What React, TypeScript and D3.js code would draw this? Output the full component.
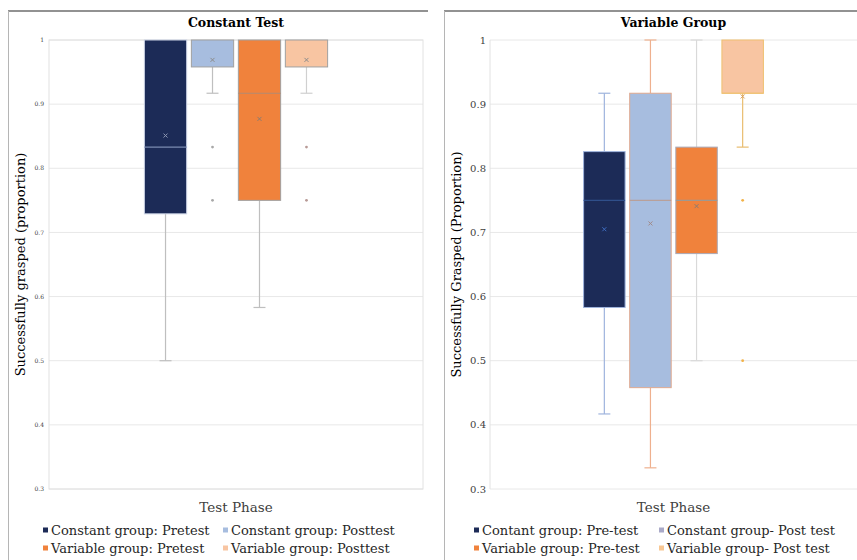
import React from "react";
import * as d3 from "d3";

const categories = ["Test Phase"];
const yTicks = [0.3, 0.4, 0.5, 0.6, 0.7, 0.8, 0.9, 1];

// Left panel: Constant Test
const constSeries = ["Constant group: Pretest", "Constant group: Posttest", "Variable group: Pretest", "Variable group: Posttest"];
const constQ1 = [0.729, 0.958, 0.75, 0.958];
const constMedian = [0.833, 1, 0.917, 1];
const constQ3 = [1, 1, 1, 1];
const constMean = [0.851, 0.969, 0.877, 0.969];
const constMin = [0.5, 0.917, 0.583, 0.917];
const constMax = [1, 1, 1, 1];
const constOutliers = [[], [0.833, 0.75], [], [0.833, 0.75]];

// Right panel: Variable Group
const varSeries = ["Contant group: Pre-test", "Constant group- Post test", "Variable group: Pre-test", "Variable group- Post test"];
const varQ1 = [0.583, 0.458, 0.667, 0.917];
const varMedian = [0.75, 0.75, 0.75, 0.917];
const varQ3 = [0.826, 0.917, 0.833, 1];
const varMean = [0.705, 0.714, 0.741, 0.912];
const varMin = [0.417, 0.333, 0.5, 0.833];
const varMax = [0.917, 1, 1, 1];
const varOutliers = [[], [], [], [0.75, 0.5]];

const FONT = "'DejaVu Serif', serif";

type Style = {
  fill: string; stroke: string; whisker: string; median: string; mean: string; outlier: string; legend: string;
};

const leftStyles: Style[] = [
  { fill: "#1c2b57", stroke: "#c9d1e3", whisker: "#bfbfbf", median: "#7a8bb0", mean: "#8d97b3", outlier: "#a0a0a0", legend: "#1c2b57" },
  { fill: "#a7bddf", stroke: "#a0a0a0", whisker: "#bfbfbf", median: "#a0a0a0", mean: "#8c8c8c", outlier: "#a8a8a8", legend: "#a7bddf" },
  { fill: "#f0823c", stroke: "#a0a0a0", whisker: "#bfbfbf", median: "#b28a72", mean: "#8c7c70", outlier: "#a0a0a0", legend: "#f0823c" },
  { fill: "#f8c5a2", stroke: "#a0a0a0", whisker: "#d0d0d0", median: "#a0a0a0", mean: "#8c8c8c", outlier: "#b89a96", legend: "#f8c5a2" },
];

const rightStyles: Style[] = [
  { fill: "#1c2b57", stroke: "#9fb4dd", whisker: "#9fb4dd", median: "#2f4f8a", mean: "#3e6bbf", outlier: "#9fb4dd", legend: "#1c2b57" },
  { fill: "#a7bddf", stroke: "#e0a98e", whisker: "#eeb08e", median: "#b8a09a", mean: "#a08a88", outlier: "#eeb08e", legend: "#a9a9c8" },
  { fill: "#f0823c", stroke: "#a9a9b8", whisker: "#d9d9d9", median: "#a09890", mean: "#8c7c72", outlier: "#d9d9d9", legend: "#f0823c" },
  { fill: "#f8c5a2", stroke: "#efc070", whisker: "#e9bd70", median: "#efc070", mean: "#d9a060", outlier: "#f2b248", legend: "#f8c793" },
];

type PanelProps = {
  title: string; yLabel: string; series: string[];
  q1: number[]; median: number[]; q3: number[]; mean: number[]; min: number[]; max: number[]; outliers: number[][];
  styles: Style[];
  frameX: number; frameRight: number; plotLeft: number; plotRight: number;
  tickSize: number; tickX: number; plotBorder: boolean;
  legendCols: number[]; yLabelX: number;
};

function Panel(p: PanelProps) {
  const top = 40, bottom = 489;
  const y = d3.scaleLinear().domain([0.3, 1]).range([bottom, top]);
  const outer = d3.scaleBand().domain(categories).range([p.plotLeft, p.plotRight]).paddingInner(0).paddingOuter(0.495);
  const inner = d3.scaleBand().domain(p.series).range([0, outer.bandwidth()]).paddingInner(0.1).paddingOuter(0.05);
  const cx0 = outer(categories[0])!;
  const bw = inner.bandwidth();
  const cap = 12;
  const plotMid = (p.plotLeft + p.plotRight) / 2;
  return (
    <g>
      <line x1={p.frameX} x2={p.frameRight} y1={11} y2={11} stroke="#6e6e6e" strokeWidth={1.3} />
      <line x1={p.frameX + 0.5} x2={p.frameX + 0.5} y1={11} y2={560} stroke="#b5b5b5" strokeWidth={1} />
      {yTicks.map((t) => (
        <line key={t} x1={p.plotLeft} x2={p.plotRight} y1={y(t)} y2={y(t)} stroke="#e8e8e8" strokeWidth={1} />
      ))}
      {p.plotBorder ? (
        <rect x={p.plotLeft} y={top} width={p.plotRight - p.plotLeft} height={bottom - top} fill="none" stroke="#e2e2e2" />
      ) : (
        <line x1={p.plotLeft} x2={p.plotLeft} y1={top} y2={bottom} stroke="#e2e2e2" />
      )}
      {yTicks.map((t) => (
        <text key={t} x={p.tickX} y={y(t)} dy="0.35em" textAnchor="end" fontFamily={FONT} fontSize={p.tickSize} fill="#404040">
          {d3.format("")(t)}
        </text>
      ))}
      <text x={plotMid} y={27} textAnchor="middle" fontFamily={FONT} fontWeight="bold" fontSize={12.5} fill="#000">{p.title}</text>
      <text transform={`translate(${p.yLabelX},${(top + bottom) / 2 + 0}) rotate(-90)`} textAnchor="middle" fontFamily={FONT} fontSize={13} fill="#000">{p.yLabel}</text>
      <text x={plotMid} y={512} textAnchor="middle" fontFamily={FONT} fontSize={13.5} fill="#404040">{categories[0]}</text>
      {p.series.map((s, i) => {
        const x0 = cx0 + inner(s)!;
        const cx = x0 + bw / 2;
        const st = p.styles[i];
        return (
          <g key={s}>
            <line x1={cx} x2={cx} y1={y(p.q3[i])} y2={y(p.max[i])} stroke={st.whisker} strokeWidth={1.2} />
            <line x1={cx} x2={cx} y1={y(p.q1[i])} y2={y(p.min[i])} stroke={st.whisker} strokeWidth={1.2} />
            {p.max[i] > p.q3[i] && <line x1={cx - cap / 2} x2={cx + cap / 2} y1={y(p.max[i])} y2={y(p.max[i])} stroke={st.whisker} strokeWidth={1.2} />}
            {p.min[i] < p.q1[i] && <line x1={cx - cap / 2} x2={cx + cap / 2} y1={y(p.min[i])} y2={y(p.min[i])} stroke={st.whisker} strokeWidth={1.2} />}
            <rect x={x0} y={y(p.q3[i])} width={bw} height={y(p.q1[i]) - y(p.q3[i])} fill={st.fill} stroke={st.stroke} strokeWidth={1} />
            {p.median[i] < p.q3[i] && <line x1={x0} x2={x0 + bw} y1={y(p.median[i])} y2={y(p.median[i])} stroke={st.median} strokeWidth={1.2} />}
            <path d={`M${cx - 2},${y(p.mean[i]) - 2}L${cx + 2},${y(p.mean[i]) + 2}M${cx - 2},${y(p.mean[i]) + 2}L${cx + 2},${y(p.mean[i]) - 2}`} stroke={st.mean} strokeWidth={1} fill="none" />
            {p.outliers[i].map((o, j) => (
              <circle key={j} cx={cx} cy={y(o)} r={1.4} fill={st.outlier} />
            ))}
          </g>
        );
      })}
      {p.series.map((s, i) => {
        const col = i % 2;
        const row = Math.floor(i / 2);
        const lx = p.legendCols[col];
        const ly = 530 + row * 18;
        return (
          <g key={s}>
            <rect x={lx - 8} y={ly - 2.5} width={5} height={5} fill={p.styles[i].legend} />
            <text x={lx} y={ly} dy="0.35em" fontFamily={FONT} fontSize={13} fill="#262626">{s}</text>
          </g>
        );
      })}
    </g>
  );
}

export default function App() {
  return (
    <svg width={857} height={560} style={{ position: "absolute", left: 0, top: 0, background: "#fff" }}>
      <rect width={857} height={560} fill="#fff" />
      <Panel title="Constant Test" yLabel="Successfully grasped (proportion)" series={constSeries}
        q1={constQ1} median={constMedian} q3={constQ3} mean={constMean} min={constMin} max={constMax} outliers={constOutliers}
        styles={leftStyles} frameX={8} frameRight={428} plotLeft={49} plotRight={423} tickSize={6} tickX={44}
        plotBorder={true} legendCols={[51, 231]} yLabelX={25} />
      <Panel title="Variable Group" yLabel="Successfully Grasped (Proportion)" series={varSeries}
        q1={varQ1} median={varMedian} q3={varQ3} mean={varMean} min={varMin} max={varMax} outliers={varOutliers}
        styles={rightStyles} frameX={444} frameRight={857} plotLeft={490} plotRight={857} tickSize={10} tickX={486}
        plotBorder={false} legendCols={[482, 667]} yLabelX={461} />
    </svg>
  );
}
